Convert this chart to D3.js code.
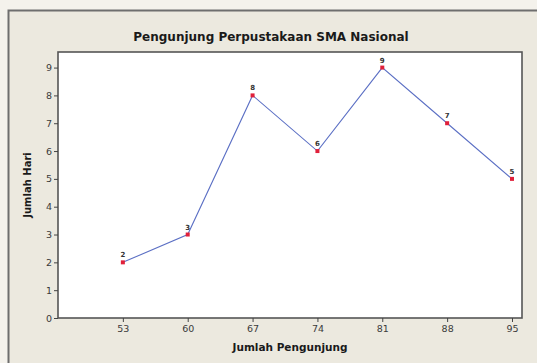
<!DOCTYPE html>
<html>
<head>
<meta charset="utf-8">
<script src="https://cdn.jsdelivr.net/npm/d3@7"></script>
<style>
  html, body { margin: 0; padding: 0; background: #f4f2ec; }
  svg { display: block; }
</style>
</head>
<body>
<svg id="chart" width="537" height="363"></svg>
<script>
// Visitors per day at the school library
const visitors = [53, 60, 67, 74, 81, 88, 95];
const days = [2, 3, 8, 6, 9, 7, 5];
const yTicks = [0, 1, 2, 3, 4, 5, 6, 7, 8, 9];
const title = "Pengunjung Perpustakaan SMA Nasional";
const xLabel = "Jumlah Pengunjung";
const yLabel = "Jumlah Hari";

const svg = d3.select("#chart");
const W = 537, H = 363;
const plot = { left: 58, top: 52, right: 522, bottom: 318 };

// outer frame (runs off the right and bottom edges)
svg.append("rect")
  .attr("x", 8.5).attr("y", 10.5)
  .attr("width", W).attr("height", H)
  .attr("fill", "#ece9df")
  .attr("stroke", "#6e6e6e").attr("stroke-width", 2);

const x = d3.scaleLinear().domain([46, 96.08]).range([plot.left, plot.right]);
const y = d3.scaleLinear().domain([0, 9.56]).range([plot.bottom, plot.top]);

// plot area
svg.append("rect")
  .attr("x", plot.left).attr("y", plot.top)
  .attr("width", plot.right - plot.left).attr("height", plot.bottom - plot.top)
  .attr("fill", "#ffffff")
  .attr("stroke", "#555555").attr("stroke-width", 1.6);

const tickFont = "'DejaVu Sans', Verdana, sans-serif";

const xAxis = svg.append("g")
  .attr("transform", `translate(0,${plot.bottom})`)
  .call(d3.axisBottom(x).tickValues(visitors).tickSize(4).tickPadding(3).tickSizeOuter(0));
const yAxis = svg.append("g")
  .attr("transform", `translate(${plot.left},0)`)
  .call(d3.axisLeft(y).tickValues(yTicks).tickSize(4).tickPadding(2).tickSizeOuter(0));

[xAxis, yAxis].forEach(g => {
  g.select(".domain").remove();
  g.selectAll(".tick line").attr("stroke", "#444").attr("stroke-width", 1);
  g.selectAll(".tick text")
    .attr("fill", "#3a3a3a")
    .style("font-family", tickFont)
    .style("font-size", "9.5px");
});

// title and axis labels
svg.append("text")
  .attr("x", 271).attr("y", 41)
  .attr("text-anchor", "middle")
  .style("font-family", tickFont)
  .style("font-weight", "bold")
  .style("font-size", "12px")
  .attr("fill", "#1a1a1a")
  .text(title);

svg.append("text")
  .attr("x", 290).attr("y", 351)
  .attr("text-anchor", "middle")
  .style("font-family", tickFont)
  .style("font-weight", "bold")
  .style("font-size", "10.5px")
  .attr("fill", "#1a1a1a")
  .text(xLabel);

svg.append("text")
  .attr("transform", `translate(31,${(plot.top + plot.bottom) / 2}) rotate(-90)`)
  .attr("text-anchor", "middle")
  .style("font-family", tickFont)
  .style("font-weight", "bold")
  .style("font-size", "10px")
  .attr("fill", "#1a1a1a")
  .text(yLabel);

const data = visitors.map((v, i) => ({ x: v, y: days[i] }));

// connecting line
svg.append("path")
  .datum(data)
  .attr("fill", "none")
  .attr("stroke", "#5b6fc4")
  .attr("stroke-width", 1.1)
  .attr("d", d3.line().x(d => x(d.x)).y(d => y(d.y)));

// markers
svg.selectAll("rect.pt")
  .data(data)
  .join("rect")
  .attr("class", "pt")
  .attr("x", d => x(d.x) - 2).attr("y", d => y(d.y) - 2)
  .attr("width", 4).attr("height", 4)
  .attr("fill", "#e0203a");

// value labels
svg.selectAll("text.val")
  .data(data)
  .join("text")
  .attr("class", "val")
  .attr("x", d => x(d.x)).attr("y", d => y(d.y) - 5)
  .attr("text-anchor", "middle")
  .style("font-family", tickFont)
  .style("font-size", "7px")
  .style("font-weight", "bold")
  .attr("fill", "#333")
  .text(d => d.y);
</script>
</body>
</html>
